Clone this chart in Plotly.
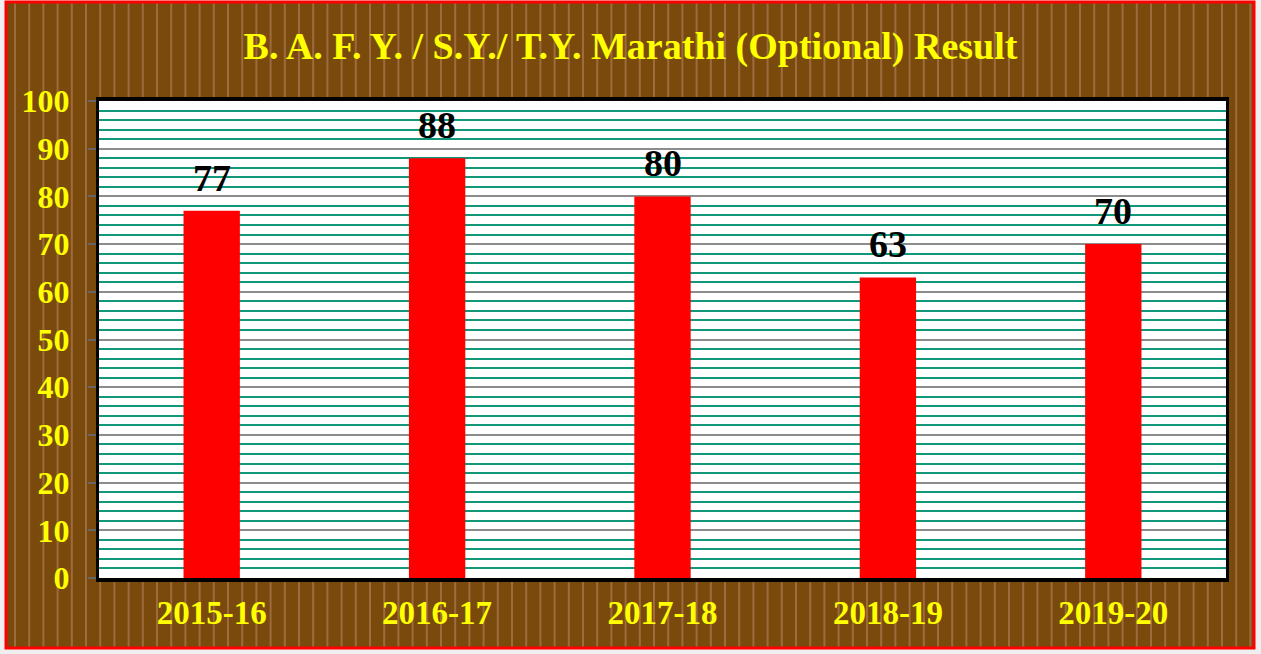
import plotly.graph_objects as go

# --- data ---
years = ["2015-16", "2016-17", "2017-18", "2018-19", "2019-20"]
results = [77, 88, 80, 63, 70]
title_text = "B. A. F. Y. / S.Y./ T.Y. Marathi (Optional) Result"

# --- canvas geometry (pixels) ---
W, H = 1261, 654
L, R, T, B = 99, 35, 101, 76
PW, PH = W - L - R, H - T - B

BROWN = "#7A4A0D"
STRIPE = "#9C6C3E"
YELLOW = "#FFFF00"
FONT = "Liberation Serif, Times New Roman, serif"


def px(x):
    return (x - L) / PW


def py(y):
    return (H - B - y) / PH


fig = go.Figure()

fig.add_trace(go.Bar(
    x=years, y=results,
    marker=dict(color="#FF0000", line=dict(width=0)),
    width=0.25,
    showlegend=False,
    hoverinfo="x+y",
))

# value labels above bars
for yr, v in zip(years, results):
    fig.add_annotation(
        x=yr, y=v, text=str(v), showarrow=False,
        yanchor="bottom", yshift=10,
        font=dict(family=FONT, size=38, color="black", weight="bold"),
    )

shapes = []
# light shadow outside the red frame
for x0, x1, y0, y1 in [(1254, W + 5, -5, H + 5), (-5, W + 5, 648, H + 5),
                       (-5, 5, -5, H + 5), (-5, W + 5, -5, 1)]:
    shapes.append(dict(type="rect", xref="paper", yref="paper",
                       x0=px(x0), x1=px(x1), y0=py(y1), y1=py(y0),
                       fillcolor="#EFEFEF", line=dict(width=0), layer="below"))

# vertical wood-like stripes on the brown background (kept off the plot area)
sx = 15
while sx < 1252:
    if L - 1 <= sx <= L + PW + 1:
        segs = [(2, T - 3), (H - B + 3, 648)]
    else:
        segs = [(2, 648)]
    for a, b in segs:
        shapes.append(dict(type="line", xref="paper", yref="paper",
                           x0=px(sx), x1=px(sx), y0=py(a), y1=py(b),
                           line=dict(color=STRIPE, width=2), layer="below"))
    sx += 14.2

# red outer frame
shapes.append(dict(type="rect", xref="paper", yref="paper",
                   x0=px(6), x1=px(1254), y0=py(648), y1=py(2),
                   line=dict(color="#FF0000", width=3), layer="below"))

fig.update_layout(
    width=W, height=H,
    margin=dict(l=L, r=R, t=T, b=B),
    paper_bgcolor=BROWN,
    plot_bgcolor="white",
    shapes=shapes,
    title=dict(text=title_text, x=0.5, xref="container", xanchor="center",
               y=1 - 46 / H, yanchor="middle",
               font=dict(family=FONT, size=38, color=YELLOW, weight="bold")),
    xaxis=dict(
        showgrid=False, zeroline=False,
        showline=True, mirror=True, linecolor="black", linewidth=4,
        ticks="", tickfont=dict(family=FONT, size=33, color=YELLOW, weight="bold"),
        ticklabelstandoff=2,
    ),
    yaxis=dict(
        range=[0, 100], dtick=10, tick0=0,
        showgrid=True, gridcolor="#8C8C8C", gridwidth=2,
        zeroline=False,
        showline=True, mirror=True, linecolor="black", linewidth=3,
        ticks="outside", ticklen=8, tickwidth=2, tickcolor="#666666",
        tickfont=dict(family=FONT, size=32, color=YELLOW, weight="bold"),
        ticklabelstandoff=12,
        minor=dict(dtick=2, showgrid=True, gridcolor="#12977A", gridwidth=2,
                   ticks=""),
    ),
)

fig.write_html("out.html", config={"displayModeBar": False},
               post_script="document.body.style.margin='0';")
